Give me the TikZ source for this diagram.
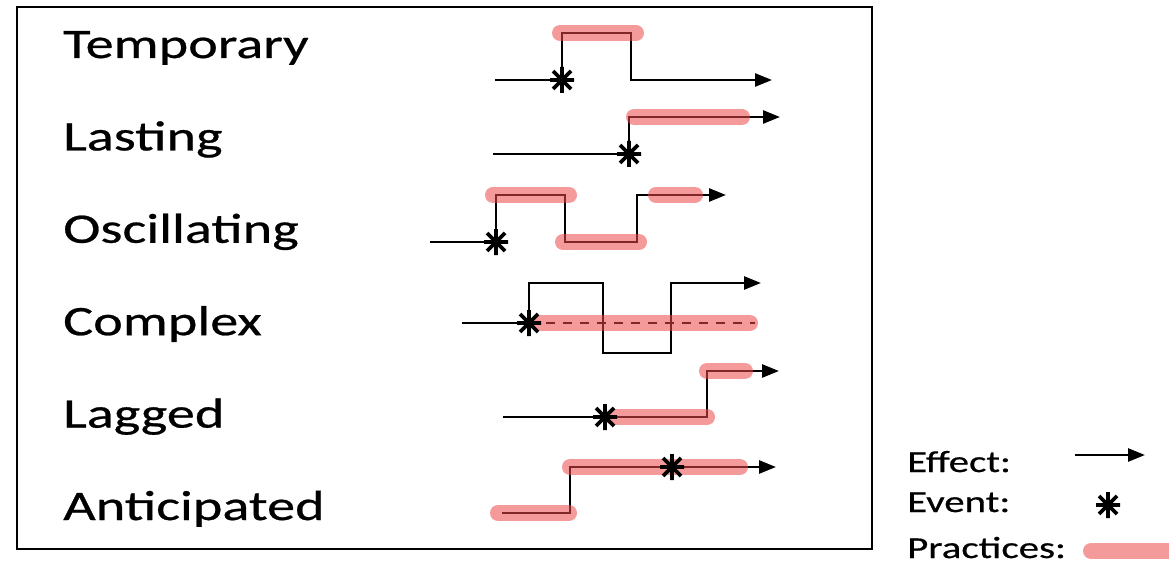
\documentclass[tikz,border=0pt]{standalone}
\usepackage{fontspec}
\newfontfamily\labfont[FakeStretch=1.34,FakeBold=0.6]{Carlito}
\usetikzlibrary{arrows.meta}
\definecolor{practice}{RGB}{238,72,72}
\tikzset{
  effect/.style={line width=2.6pt, black, line join=miter},
  effarrow/.style={effect, -{Triangle[length=17pt,width=13pt]}},
  practices/.style={line width=16pt, line cap=round, practice, opacity=0.55},
  rowlabel/.style={anchor=base west, inner sep=0pt, font=\labfont\fontsize{42}{42}\selectfont},
  legendlabel/.style={anchor=base west, inner sep=0pt, font=\labfont\fontsize{30.5}{31}\selectfont},
  pics/evstar/.style={code={
    \draw[line width=3.6pt, black] (-12,0) -- (12,0) (0,-13) -- (0,13)
      (-9,-9) -- (9,9) (-9,9) -- (9,-9);
  }}
}
\begin{document}
\begin{tikzpicture}[x=1pt, y=-1pt]
\useasboundingbox (0,0) rectangle (1169,580);
\clip (0,0) rectangle (1169,580);
\fill[white] (0,0) rectangle (1169,580);

% frame
\draw[line width=2.8pt] (17,7) rectangle (872,549);

% row labels
\node[rowlabel] (temporary)   at (63,58)    {Temporary};
\node[rowlabel] (lasting)     at (63,150.4) {Lasting};
\node[rowlabel] (oscillating) at (63,242.8) {Oscillating};
\node[rowlabel] (complex)     at (63,335.2) {Complex};
\node[rowlabel] (lagged)      at (63,427.6) {Lagged};
\node[rowlabel] (anticipated) at (63,520)   {Anticipated};

% effect curves
\draw[effarrow] (495,80) -- (562,80) -- (562,33) -- (631,33) -- (631,80) -- (772,80);
\draw[effarrow] (493,154) -- (629,154) -- (629,117) -- (780,117);
\draw[effarrow] (430,242) -- (496,242) -- (496,195) -- (565,195) -- (565,242)
  -- (637,242) -- (637,195) -- (726,195);
\draw[effarrow] (462,323) -- (529,323) -- (529,283) -- (603,283) -- (603,353)
  -- (671,353) -- (671,283) -- (761,283);
\draw[effect, dash pattern=on 9pt off 8pt] (529,323) -- (755,323);
\draw[effarrow] (503,417) -- (707,417) -- (707,371) -- (779,371);
\draw[effarrow] (502,513) -- (570,513) -- (570,467) -- (776,467);

% practices
\draw[practices] (560,33) -- (636,33);
\draw[practices] (634,117) -- (742,117);
\draw[practices] (493,195) -- (569,195);
\draw[practices] (563,242) -- (639,242);
\draw[practices] (656,195) -- (695,195);
\draw[practices] (541,323) -- (750,323);
\draw[practices] (613,417) -- (707,417);
\draw[practices] (707,371) -- (745,371);
\draw[practices] (498,513) -- (569,513);
\draw[practices] (570,467) -- (740,467);

% events
\pic at (562,80) {evstar};
\pic at (629,154) {evstar};
\pic at (496,242) {evstar};
\pic at (529,323) {evstar};
\pic at (605,417) {evstar};
\pic at (672,467) {evstar};

% legend
\node[legendlabel] (effectlbl)    at (907,472) {Effect:};
\node[legendlabel] (eventlbl)     at (907,512) {Event:};
\node[legendlabel] (practicelbl)  at (907,558) {Practices:};
\coordinate (legA) at (1075,455);
\coordinate (legB) at (1145,455);
\draw[effarrow] (legA) -- (legB);
\pic at (1108,505) {evstar};
\draw[practices] (1091,551) -- (1185,551);
\end{tikzpicture}
\end{document}
